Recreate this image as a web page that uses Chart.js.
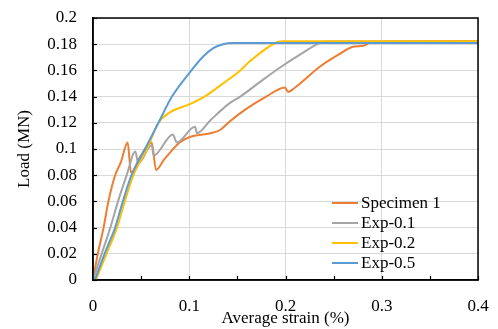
<!DOCTYPE html>
<html>
<head>
<meta charset="utf-8">
<script src="https://cdn.jsdelivr.net/npm/chart.js@4/dist/chart.umd.min.js"></script>
<style>
html,body{margin:0;padding:0;background:#fff;}
#wrap{width:498px;height:329px;position:relative;}
</style>
</head>
<body>
<div id="wrap"><canvas id="c" width="498" height="329"></canvas></div>
<script>
const seriesNames = ["Specimen 1", "Exp-0.1", "Exp-0.2", "Exp-0.5"];
const seriesColors = ["#ED7D31", "#A5A5A5", "#FFC000", "#5B9BD5"];

const strainSpecimen1 = [0, 0.005, 0.011, 0.016, 0.023, 0.029, 0.036, 0.0395, 0.049, 0.061, 0.0655, 0.074, 0.082, 0.090, 0.100, 0.122, 0.132, 0.142, 0.160, 0.180, 0.1995, 0.2026, 0.210, 0.236, 0.255, 0.270, 0.277, 0.282, 0.290, 0.400];
const loadSpecimen1   = [0, 0.020, 0.040, 0.060, 0.080, 0.090, 0.105, 0.082, 0.094, 0.105, 0.084, 0.092, 0.099, 0.105, 0.109, 0.112, 0.1145, 0.121, 0.131, 0.140, 0.147, 0.1435, 0.147, 0.163, 0.172, 0.178, 0.1785, 0.179, 0.1818, 0.1825];

const strainExp01 = [0, 0.009, 0.018, 0.026, 0.035, 0.044, 0.047, 0.061, 0.063, 0.083, 0.087, 0.106, 0.108, 0.122, 0.142, 0.153, 0.175, 0.194, 0.215, 0.236, 0.245, 0.400];
const loadExp01   = [0, 0.020, 0.040, 0.060, 0.080, 0.098, 0.089, 0.103, 0.095, 0.111, 0.105, 0.117, 0.112, 0.122, 0.135, 0.140, 0.152, 0.162, 0.172, 0.181, 0.182, 0.182];

const strainExp02 = [0.003, 0.014, 0.025, 0.033, 0.042, 0.056, 0.068, 0.080, 0.100, 0.118, 0.135, 0.153, 0.163, 0.191, 0.197, 0.400];
const loadExp02   = [0, 0.020, 0.040, 0.060, 0.080, 0.100, 0.120, 0.128, 0.134, 0.141, 0.150, 0.160, 0.167, 0.1815, 0.1822, 0.1822];

const strainExp05 = [0.002, 0.012, 0.023, 0.031, 0.040, 0.054, 0.068, 0.082, 0.100, 0.115, 0.125, 0.135, 0.145, 0.400];
const loadExp05   = [0, 0.020, 0.040, 0.060, 0.080, 0.100, 0.120, 0.140, 0.158, 0.171, 0.177, 0.180, 0.181, 0.181];

const xTicks = [0, 0.1, 0.2, 0.3, 0.4];
const yTicks = [0, 0.02, 0.04, 0.06, 0.08, 0.1, 0.12, 0.14, 0.16, 0.18, 0.2];

function pts(xs, ys){ return xs.map((x,i)=>({x:x, y:ys[i]})); }
const allX = [strainSpecimen1, strainExp01, strainExp02, strainExp05];
const allY = [loadSpecimen1, loadExp01, loadExp02, loadExp05];

const datasets = seriesNames.map((n,i)=>({
  label: n,
  data: pts(allX[i], allY[i]),
  borderColor: seriesColors[i],
  backgroundColor: seriesColors[i],
  borderWidth: 2,
  pointRadius: 0,
  showLine: true,
  cubicInterpolationMode: 'monotone',
  order: seriesNames.length - i
}));

const FONT = "'Liberation Serif', 'Times New Roman', serif";

const framePlugin = {
  id: 'frame',
  afterDatasetsDraw(chart){
    const ctx = chart.ctx, a = chart.chartArea;
    const xs = chart.scales.x, ys = chart.scales.y;
    ctx.save();
    ctx.strokeStyle = '#000';
    ctx.lineWidth = 1.5;
    ctx.strokeRect(a.left, a.top, a.right - a.left, a.bottom - a.top);
    ctx.lineWidth = 1.2;
    for (let v = 0.05; v < 0.4; v += 0.05) {
      const px = Math.round(xs.getPixelForValue(v)) + 0.5;
      ctx.beginPath(); ctx.moveTo(px, a.bottom); ctx.lineTo(px, a.bottom - 4); ctx.stroke();
    }
    yTicks.forEach(v=>{
      const py = Math.round(ys.getPixelForValue(v)) + 0.5;
      ctx.beginPath(); ctx.moveTo(a.left, py); ctx.lineTo(a.left + 4, py); ctx.stroke();
    });
    ctx.restore();
  },
  afterDraw(chart){
    const ctx = chart.ctx;
    ctx.save();
    ctx.font = "17px " + FONT;
    ctx.textBaseline = 'middle';
    ctx.fillStyle = '#000';
    const x0 = 332, x1 = 358, ty = [203, 223, 243, 263];
    seriesNames.forEach((n,i)=>{
      ctx.strokeStyle = seriesColors[i];
      ctx.lineWidth = 2;
      ctx.beginPath(); ctx.moveTo(x0, ty[i]); ctx.lineTo(x1, ty[i]); ctx.stroke();
      ctx.fillText(n, 361, ty[i] + 1);
    });
    ctx.restore();
  }
};

new Chart(document.getElementById('c'), {
  type: 'scatter',
  data: { datasets },
  plugins: [framePlugin],
  options: {
    responsive: false,
    animation: false,
    layout: { padding: { left: 0, right: 20, top: 18, bottom: 0 } },
    plugins: { legend: { display: false }, tooltip: { enabled: false } },
    scales: {
      x: {
        type: 'linear', min: 0, max: 0.4,
        afterBuildTicks(s){ s.ticks = xTicks.map(v=>({value:v})); },
        afterFit(s){ s.height = 49; s.paddingLeft = 0; s.paddingRight = 0; },
        grid: { color: '#d9d9d9', lineWidth: 1, drawTicks: false },
        border: { display: true, color: '#000', width: 1.5 },
        ticks: { font: { family: FONT, size: 17 }, color: '#000', padding: 16, maxRotation: 0,
                 callback: v => String(+v.toFixed(2)) },
        title: { display: true, text: 'Average strain (%)', font: { family: FONT, size: 17 }, color: '#000', padding: { top: 0, bottom: 0 } }
      },
      y: {
        type: 'linear', min: 0, max: 0.2,
        afterBuildTicks(s){ s.ticks = yTicks.map(v=>({value:v})); },
        afterFit(s){ s.width = 93; s.paddingTop = 0; s.paddingBottom = 0; },
        grid: { color: '#d9d9d9', lineWidth: 1, drawTicks: false },
        border: { display: true, color: '#000', width: 1.5 },
        ticks: { font: { family: FONT, size: 17 }, color: '#000', padding: 16,
                 callback: v => String(+v.toFixed(2)) },
        title: { display: true, text: 'Load (MN)', font: { family: FONT, size: 17 }, color: '#000', padding: { top: 14, bottom: 0 } }
      }
    }
  }
});
</script>
</body>
</html>
